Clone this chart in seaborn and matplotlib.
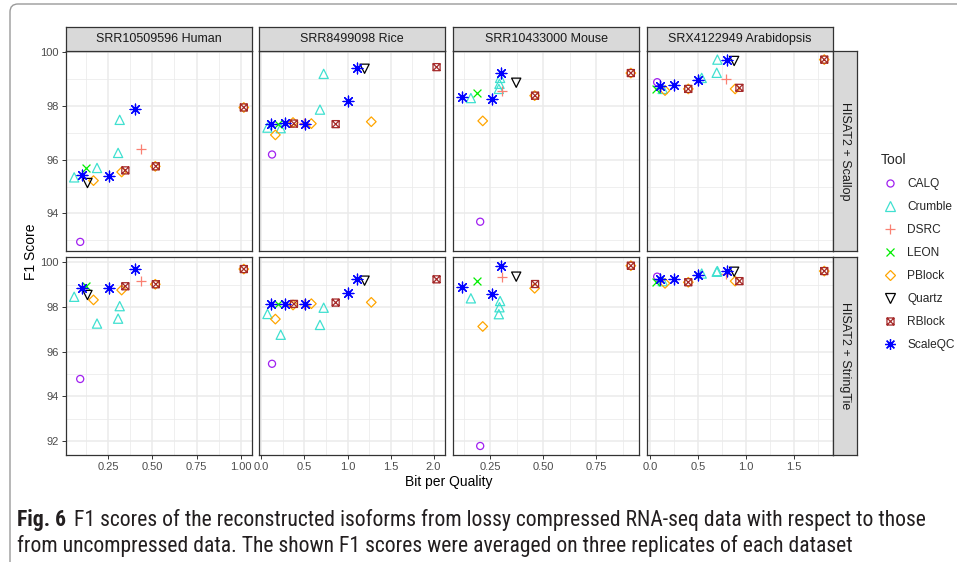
import numpy as np
import pandas as pd
import matplotlib
matplotlib.use("Agg")
import matplotlib.pyplot as plt
from matplotlib.path import Path
from matplotlib.patches import FancyBboxPatch
from matplotlib.lines import Line2D
from matplotlib.transforms import IdentityTransform
from matplotlib import font_manager
import seaborn as sns

# ---------------------------------------------------------------- data
datasets = ["Human", "Rice", "Mouse", "Arabidopsis"]
dataset_titles = ["SRR10509596 Human", "SRR8499098 Rice",
                  "SRR10433000 Mouse", "SRX4122949 Arabidopsis"]
pipelines = ["HISAT2 + Scallop", "HISAT2 + StringTie"]
tools = ["CALQ", "Crumble", "DSRC", "LEON", "PBlock", "Quartz", "RBlock", "ScaleQC"]

# bits per quality score and F1 (%) for each pipeline
calq_dataset = ["Human", "Rice", "Mouse", "Arabidopsis"]
calq_bpq = [0.093, 0.123, 0.203, 0.075]
calq_scallop = [92.94, 96.19, 93.69, 98.88]
calq_stringtie = [94.78, 95.46, 91.78, 99.36]

crumble_dataset = ["Human"] * 4 + ["Rice"] * 4 + ["Mouse"] * 4 + ["Arabidopsis"] * 4
crumble_bpq = [0.059, 0.188, 0.307, 0.316,
               0.070, 0.224, 0.680, 0.723,
               0.159, 0.291, 0.294, 0.297,
               0.133, 0.540, 0.697, 0.704]
crumble_scallop = [95.34, 95.69, 96.25, 97.48,
                   97.19, 97.17, 97.86, 99.19,
                   98.29, 98.63, 98.82, 99.04,
                   98.63, 99.04, 99.23, 99.72]
crumble_stringtie = [98.46, 97.26, 97.48, 98.04,
                     97.69, 96.76, 97.20, 97.97,
                     98.39, 97.68, 97.99, 98.27,
                     99.16, 99.50, 99.58, 99.61]

dsrc_dataset = ["Human", "Rice", "Mouse", "Arabidopsis"]
dsrc_bpq = [0.435, 0.500, 0.305, 0.795]
dsrc_scallop = [96.38, 97.36, 98.54, 98.99]
dsrc_stringtie = [99.16, 98.12, 99.33, 99.46]

leon_dataset = ["Human", "Rice", "Mouse", "Arabidopsis"]
leon_bpq = [0.127, 0.190, 0.190, 0.060]
leon_scallop = [95.69, 97.34, 98.47, 98.63]
leon_stringtie = [98.94, 98.14, 99.18, 99.11]

pblock_dataset = ["Human"] * 4 + ["Rice"] * 4 + ["Mouse"] * 3 + ["Arabidopsis"] * 4
pblock_bpq = [0.168, 0.327, 0.517, 1.017,
              0.162, 0.367, 0.580, 1.276,
              0.215, 0.460, 0.914,
              0.157, 0.400, 0.889, 1.820]
pblock_scallop = [95.22, 95.54, 95.75, 97.94,
                  96.92, 97.38, 97.34, 97.41,
                  97.44, 98.38, 99.22,
                  98.57, 98.63, 98.63, 99.72]
pblock_stringtie = [98.32, 98.76, 99.02, 99.70,
                    97.46, 98.09, 98.15, 98.21,
                    97.13, 98.84, 99.85,
                    99.06, 99.11, 99.16, 99.61]

quartz_dataset = ["Human", "Rice", "Mouse", "Arabidopsis"]
quartz_bpq = [0.134, 1.198, 0.373, 0.879]
quartz_scallop = [95.13, 99.38, 98.86, 99.67]
quartz_stringtie = [98.54, 99.18, 99.36, 99.58]

rblock_dataset = ["Human"] * 3 + ["Rice"] * 3 + ["Mouse"] * 2 + ["Arabidopsis"] * 3
rblock_bpq = [0.348, 0.520, 1.017,
              0.378, 0.862, 2.034,
              0.462, 0.914,
              0.400, 0.934, 1.820]
rblock_scallop = [95.60, 95.75, 97.94,
                  97.34, 97.32, 99.44,
                  98.38, 99.22,
                  98.63, 98.67, 99.72]
rblock_stringtie = [98.93, 99.02, 99.70,
                    98.14, 98.20, 99.24,
                    99.03, 99.85,
                    99.11, 99.16, 99.61]

scaleqc_dataset = ["Human"] * 3 + ["Rice"] * 5 + ["Mouse"] * 3 + ["Arabidopsis"] * 4
scaleqc_bpq = [0.104, 0.257, 0.403,
               0.116, 0.270, 0.510, 1.005, 1.105,
               0.116, 0.258, 0.300,
               0.105, 0.251, 0.505, 0.809]
scaleqc_scallop = [95.41, 95.39, 97.90,
                   97.32, 97.38, 97.34, 98.19, 99.42,
                   98.34, 98.25, 99.22,
                   98.72, 98.79, 98.97, 99.72]
scaleqc_stringtie = [98.87, 98.87, 99.70,
                     98.13, 98.14, 98.15, 98.64, 99.24,
                     98.90, 98.58, 99.85,
                     99.24, 99.24, 99.43, 99.61]

# ---------------------------------------------------------------- long table
tool_tables = {
    "CALQ": (calq_dataset, calq_bpq, calq_scallop, calq_stringtie),
    "Crumble": (crumble_dataset, crumble_bpq, crumble_scallop, crumble_stringtie),
    "DSRC": (dsrc_dataset, dsrc_bpq, dsrc_scallop, dsrc_stringtie),
    "LEON": (leon_dataset, leon_bpq, leon_scallop, leon_stringtie),
    "PBlock": (pblock_dataset, pblock_bpq, pblock_scallop, pblock_stringtie),
    "Quartz": (quartz_dataset, quartz_bpq, quartz_scallop, quartz_stringtie),
    "RBlock": (rblock_dataset, rblock_bpq, rblock_scallop, rblock_stringtie),
    "ScaleQC": (scaleqc_dataset, scaleqc_bpq, scaleqc_scallop, scaleqc_stringtie),
}
frames = []
for tool, (ds, bpq, f_sc, f_st) in tool_tables.items():
    for pipe, f1 in zip(pipelines, (f_sc, f_st)):
        frames.append(pd.DataFrame({"Tool": tool, "Dataset": ds, "Pipeline": pipe,
                                    "BPQ": bpq, "F1": f1}))
df = pd.concat(frames, ignore_index=True)

# ---------------------------------------------------------------- styling
sns.set_theme(style="white")
plt.rcParams["font.family"] = ["Liberation Sans", "DejaVu Sans"]

# square with a cross (RBlock)
box_x = Path([(-1, -1), (1, -1), (1, 1), (-1, 1), (-1, -1),
              (-1, -1), (1, 1), (-1, 1), (1, -1)],
             [Path.MOVETO, Path.LINETO, Path.LINETO, Path.LINETO, Path.CLOSEPOLY,
              Path.MOVETO, Path.LINETO, Path.MOVETO, Path.LINETO])

tool_style = {
    #            colour      marker        size filled
    "CALQ":    ("#A020F0", "o",          26, True),
    "Crumble": ("#40E0D0", "^",          44, True),
    "DSRC":    ("#FA8072", "+",          60, False),
    "LEON":    ("#00EE00", "x",          32, False),
    "PBlock":  ("#FFA500", "D",          24, True),
    "Quartz":  ("#000000", "v",          44, True),
    "RBlock":  ("#A52A2A", box_x,        26, True),
    "ScaleQC": ("#0000FF", (8, 2, 0),    60, False),
}

W, H = 957, 562
fig = plt.figure(figsize=(W / 100, H / 100), dpi=100)
fig.patch.set_facecolor("white")

col_px = [(65.7, 252.3), (259.0, 445.0), (453.3, 639.3), (647.3, 832.7)]
row_px = [(50.5, 251.0), (256.7, 455.0)]
strip_top = 27.3
strip_right = (833.3, 857.5)

col_major = [[0.25, 0.5, 0.75, 1.0], [0.0, 0.5, 1.0, 1.5, 2.0],
             [0.25, 0.5, 0.75], [0.0, 0.5, 1.0, 1.5]]
col_fmt = ["{:.2f}", "{:.1f}", "{:.2f}", "{:.1f}"]
row_major = [[94, 96, 98, 100], [92, 94, 96, 98, 100]]


def px_axes(x0, y0, x1, y1):
    return fig.add_axes([x0 / W, 1 - y1 / H, (x1 - x0) / W, (y1 - y0) / H])


def expanded(values):
    lo, hi = float(np.min(values)), float(np.max(values))
    pad = 0.05 * (hi - lo)
    return lo - pad, hi + pad


def minor_between(major, lim):
    step = major[1] - major[0]
    k0 = int(np.floor(lim[0] / step)) - 1
    k1 = int(np.ceil(lim[1] / step)) + 1
    vals = [(k + 0.5) * step for k in range(k0, k1)]
    return [v for v in vals if lim[0] <= v <= lim[1]]


grid_c = "#EBEBEB"
for r, pipe in enumerate(pipelines):
    ylim = expanded(df.loc[df.Pipeline == pipe, "F1"])
    for c, ds in enumerate(datasets):
        xlim = expanded(df.loc[df.Dataset == ds, "BPQ"])
        ax = px_axes(col_px[c][0], row_px[r][0], col_px[c][1], row_px[r][1])
        ax.set_facecolor("white")
        ax.set_xlim(xlim)
        ax.set_ylim(ylim)

        # grid lines
        for v in minor_between(col_major[c], xlim):
            ax.axvline(v, color=grid_c, lw=0.55, zorder=0)
        for v in minor_between(row_major[r], ylim):
            ax.axhline(v, color=grid_c, lw=0.55, zorder=0)
        for v in col_major[c]:
            ax.axvline(v, color=grid_c, lw=1.1, zorder=0)
        for v in row_major[r]:
            ax.axhline(v, color=grid_c, lw=1.1, zorder=0)

        sub = df[(df.Dataset == ds) & (df.Pipeline == pipe)]
        for tool in tools:
            colr, mk, size, filled = tool_style[tool]
            pts = sub[sub.Tool == tool]
            if filled:
                sns.scatterplot(data=pts, x="BPQ", y="F1", ax=ax, marker=mk, s=size,
                                facecolors="none", edgecolor=colr, linewidth=0.9,
                                legend=False, zorder=3)
            else:
                sns.scatterplot(data=pts, x="BPQ", y="F1", ax=ax, marker=mk, s=size,
                                color=colr, linewidth=0.9, legend=False, zorder=3)

        ax.set_xlabel("")
        ax.set_ylabel("")
        ax.set_xticks(col_major[c])
        ax.set_yticks(row_major[r])
        ax.tick_params(length=3.0, width=0.7, color="#333333", labelcolor="#4D4D4D",
                       labelsize=8, pad=2)
        ax.tick_params(axis="x", bottom=(r == 1), labelbottom=(r == 1))
        ax.tick_params(axis="y", left=(c == 0), labelleft=(c == 0))
        if r == 1:
            ax.set_xticklabels([col_fmt[c].format(v) for v in col_major[c]])
        if c == 0:
            ax.set_yticklabels([str(v) for v in row_major[r]])
        for sp in ax.spines.values():
            sp.set_color("#333333")
            sp.set_linewidth(0.9)
            sp.set_zorder(5)

        # column strips
        if r == 0:
            sax = px_axes(col_px[c][0], strip_top, col_px[c][1], row_px[0][0])
            sax.set_facecolor("#D9D9D9")
            sax.set_xticks([]); sax.set_yticks([])
            for sp in sax.spines.values():
                sp.set_color("#333333"); sp.set_linewidth(0.9)
            sax.text(0.5, 0.5, dataset_titles[c], ha="center", va="center",
                     fontsize=9, color="#1A1A1A", transform=sax.transAxes)
    # row strips
    rax = px_axes(strip_right[0], row_px[r][0], strip_right[1], row_px[r][1])
    rax.set_facecolor("#D9D9D9")
    rax.set_xticks([]); rax.set_yticks([])
    for sp in rax.spines.values():
        sp.set_color("#333333"); sp.set_linewidth(0.9)
    rax.text(0.5, 0.5, pipe, ha="center", va="center", rotation=-90,
             fontsize=9, color="#1A1A1A", transform=rax.transAxes)

# axis titles
fig.text(449 / W, 1 - 482 / H, "Bit per Quality", ha="center", va="center",
         fontsize=10, color="black")
fig.text(31 / W, 1 - 252 / H, "F1 Score", ha="center", va="center",
         rotation=90, fontsize=10, color="black")

# legend
handles = []
for tool in tools:
    colr, mk, size, filled = tool_style[tool]
    if filled:
        h = Line2D([], [], linestyle="", marker=mk, markersize=np.sqrt(size),
                   markerfacecolor="none", markeredgecolor=colr, markeredgewidth=0.9)
    else:
        h = Line2D([], [], linestyle="", marker=mk, markersize=np.sqrt(size),
                   color=colr, markeredgewidth=0.9)
    handles.append(h)
leg = fig.legend(handles, tools, title="Tool", loc="upper left",
                 bbox_to_anchor=(876 / W, 1 - 148 / H), frameon=False,
                 fontsize=8.6, title_fontsize=10, labelspacing=0.92,
                 handletextpad=0.6, borderaxespad=0, handlelength=1.6)
leg._legend_box.align = "left"

# caption
cap_font = ["Liberation Sans", "DejaVu Sans"]
for cand in ["Liberation Sans Narrow", "Roboto Condensed", "Open Sans Condensed"]:
    try:
        font_manager.findfont(cand, fallback_to_default=False)
        cap_font = [cand] + cap_font
        break
    except Exception:
        pass

renderer = fig.canvas.get_renderer()
line1_rest = ("F1 scores of the reconstructed isoforms from lossy compressed "
              "RNA-seq data with respect to those")
line2 = ("from uncompressed data. The shown F1 scores were averaged on three "
         "replicates of each dataset")
x0 = 17
target = 908


def caption_line1(fs):
    tb = fig.text(x0 / W, 1 - 526 / H, "Fig. 6", fontsize=fs, fontweight="bold",
                  family=cap_font, color="#231F20", va="baseline")
    bb = tb.get_window_extent(renderer)
    tr = fig.text((bb.x1 + 0.5 * fs) / W, 1 - 526 / H, line1_rest, fontsize=fs,
                  family=cap_font, color="#231F20", va="baseline")
    return tb, tr, tr.get_window_extent(renderer).x1 - x0


fs = 14.0
for _ in range(4):
    tb, tr, width = caption_line1(fs)
    tb.remove(); tr.remove()
    fs *= target / width
caption_line1(fs)
fig.text(x0 / W, 1 - 552 / H, line2, fontsize=fs, family=cap_font,
         color="#231F20", va="baseline")

# outer frame
frame = FancyBboxPatch((10, -40), 1100, H - 4 + 40,
                       boxstyle="round,pad=0,rounding_size=8",
                       transform=IdentityTransform(), fill=False,
                       edgecolor="#9A9A9A", linewidth=1.0)
fig.patches.append(frame)

fig.savefig("out.png", dpi=100, facecolor="white")
